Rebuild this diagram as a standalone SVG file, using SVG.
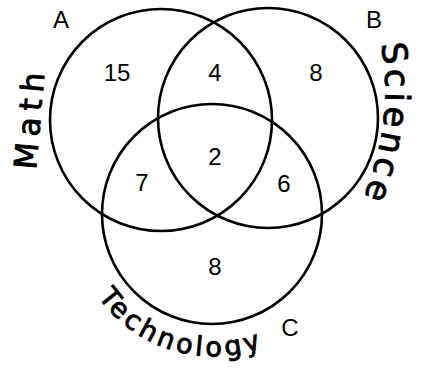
<svg xmlns="http://www.w3.org/2000/svg" width="422" height="377" viewBox="0 0 422 377">
<style>
.c{fill:none;stroke:#000;stroke-width:2.6}
.n{font-family:"Liberation Sans",Arial,sans-serif;font-size:24px;fill:#000;text-anchor:middle}
.h{font-family:"DejaVu Sans","Liberation Sans",sans-serif;fill:#000;stroke:#000;stroke-width:0.9}
</style>
<defs>
<path id="pSci" d="M 381 44 Q 396 122 360 206"/>
<path id="pTech" d="M 98 297 A 142 142 0 0 0 290 334"/>
</defs>
<rect width="422" height="377" fill="#fff"/>
<g id="circleA"><circle class="c" cx="161" cy="120" r="111"/><text class="n" x="61" y="28">A</text></g>
<g id="circleB"><circle class="c" cx="268" cy="118" r="110"/><text class="n" x="374" y="28">B</text></g>
<g id="circleC"><circle class="c" cx="212" cy="214" r="110"/><text class="n" x="290" y="336">C</text></g>
<g id="counts">
<text class="n" x="117" y="81">15</text>
<text class="n" x="215" y="81">4</text>
<text class="n" x="316" y="81">8</text>
<text class="n" x="142" y="191">7</text>
<text class="n" x="215" y="165">2</text>
<text class="n" x="284" y="192">6</text>
<text class="n" x="215" y="275">8</text>
</g>
<g id="labels">
<text class="h" font-size="31" transform="translate(36,170) rotate(-85)" textLength="97" lengthAdjust="spacing">Math</text>
<text class="h" font-size="34" letter-spacing="4"><textPath href="#pSci">Science</textPath></text>
<text class="h" font-size="27" letter-spacing="3.6"><textPath href="#pTech">Technology</textPath></text>
</g>
</svg>
